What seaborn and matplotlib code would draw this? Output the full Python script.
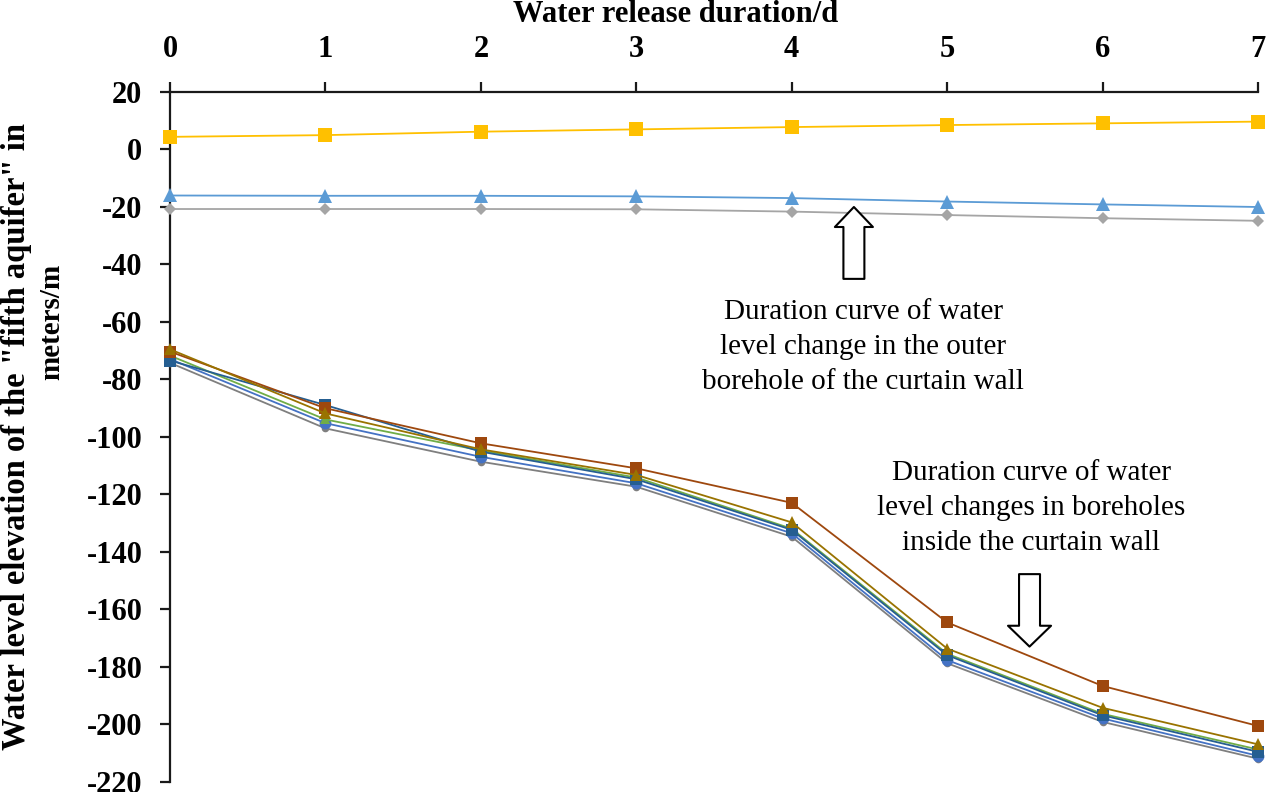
import numpy as np
import pandas as pd
import matplotlib
matplotlib.use("Agg")
import matplotlib.pyplot as plt
import seaborn as sns

# ── Data ─────────────────────────────────────────────────────────────────────
days = [0, 1, 2, 3, 4, 5, 6, 7]

# outer boreholes (upper group)
outer_yellow = [4.3, 4.9, 6.1, 6.9, 7.7, 8.4, 9.0, 9.6]
outer_blue   = [-16.1, -16.2, -16.2, -16.4, -17.0, -18.2, -19.2, -20.1]
outer_gray   = [-20.8, -20.8, -20.8, -20.9, -21.7, -22.9, -24.0, -24.9]

# inside boreholes (lower group)
in_brown    = [-70.4, -90.1, -102.3, -111.0, -123.0, -164.6, -186.7, -200.6]
in_olive    = [-69.6, -91.9, -104.4, -113.3, -129.8, -173.7, -194.3, -207.0]
in_darkblue = [-73.5, -89.0, -105.2, -114.8, -132.4, -176.0, -196.9, -209.6]
in_green    = [-71.8, -94.0, -104.8, -114.2, -132.0, -175.5, -196.4, -208.8]
in_blue     = [-73.0, -95.3, -107.0, -116.2, -133.6, -177.7, -198.0, -211.0]
in_gray     = [-74.3, -97.1, -108.7, -117.4, -134.8, -178.8, -199.2, -212.0]

x_ticks = list(range(8))
y_ticks = list(range(-220, 21, 20))

# ── Style ────────────────────────────────────────────────────────────────────
sns.set_theme(style="white")
plt.rcParams["font.family"] = ["Liberation Serif", "DejaVu Serif"]
plt.rcParams["axes.unicode_minus"] = False
plt.rcParams["text.color"] = "black"

fig = plt.figure(figsize=(12.67, 7.92), dpi=100)
ax = fig.add_axes([0.1342, 0.0130, 0.8587, 0.8712])

# (values, colour, marker, markersize, zorder)
series = [
    (outer_gray,   "#A5A5A5", "D", 6.5, 3),
    (outer_blue,   "#5B9BD5", "^", 9.5, 4),
    (outer_yellow, "#FFC000", "s", 9.5, 5),
    (in_gray,      "#7F7F7F", "o", 5.5, 3),
    (in_blue,      "#4472C4", "o", 8.5, 4),
    (in_green,     "#70AD47", "^", 7.0, 5),
    (in_darkblue,  "#255E91", "s", 8.7, 6),
    (in_brown,     "#9E480E", "s", 8.7, 7),
    (in_olive,     "#997300", "^", 9.0, 8),
]

for vals, color, marker, ms, z in series:
    df = pd.DataFrame({"day": days, "level": vals})
    sns.lineplot(data=df, x="day", y="level", ax=ax, color=color, marker=marker,
                 markersize=ms, markeredgewidth=0, linewidth=1.3, zorder=z,
                 clip_on=False)

# ── Axes ─────────────────────────────────────────────────────────────────────
ax.set_xlim(0, 7)
ax.set_ylim(-220, 20)
ax.set_xticks(x_ticks)
ax.set_yticks(y_ticks)
ax.xaxis.tick_top()
ax.set_xlabel("")
ax.set_ylabel("")
for side in ["bottom", "right"]:
    ax.spines[side].set_visible(False)
for side in ["top", "left"]:
    ax.spines[side].set_color("#1a1a1a")
    ax.spines[side].set_linewidth(1.6)
ax.tick_params(axis="x", top=True, bottom=False, labeltop=True, labelbottom=False)
ax.tick_params(axis="y", left=True, right=False)
ax.tick_params(axis="both", direction="out", length=7, width=1.6, color="#1a1a1a",
               labelsize=22, labelcolor="black", pad=13)
for lab in ax.get_xticklabels() + ax.get_yticklabels():
    lab.set_fontweight("bold")

fig.text(676 / 1267, 1 - 14 / 792, "Water release duration/d", ha="center", va="center",
         fontsize=22, fontweight="bold", color="black")
fig.text(17 / 1267, 1 - 437 / 792, "Water level elevation of the \"fifth aquifer\" in",
         rotation=90, ha="center", va="center", fontsize=23.5, fontweight="bold", color="black")
fig.text(52 / 1267, 1 - 322 / 792, "meters/m",
         rotation=90, ha="center", va="center", fontsize=21, fontweight="bold", color="black")

# ── Annotations ──────────────────────────────────────────────────────────────
ax.annotate("", xy=(4.40, -20.1), xytext=(4.40, -45.1),
            arrowprops=dict(arrowstyle="simple,head_length=1.44,head_width=2.74,tail_width=1.51",
                            fc="white", ec="black", lw=1.5, shrinkA=0, shrinkB=0,
                            mutation_scale=10))
ax.annotate("", xy=(5.53, -173.0), xytext=(5.53, -147.8),
            arrowprops=dict(arrowstyle="simple,head_length=1.5,head_width=3.1,tail_width=1.51",
                            fc="white", ec="black", lw=1.5, shrinkA=0, shrinkB=0,
                            mutation_scale=10))

ax.text(4.46, -68.8, "Duration curve of water\nlevel change in the outer\nborehole of the curtain wall",
        ha="center", va="center", fontsize=21, linespacing=1.45, color="black")
ax.text(5.54, -124.8, "Duration curve of water\nlevel changes in boreholes\ninside the curtain wall",
        ha="center", va="center", fontsize=21, linespacing=1.45, color="black")

fig.savefig("out.png", dpi=100)
